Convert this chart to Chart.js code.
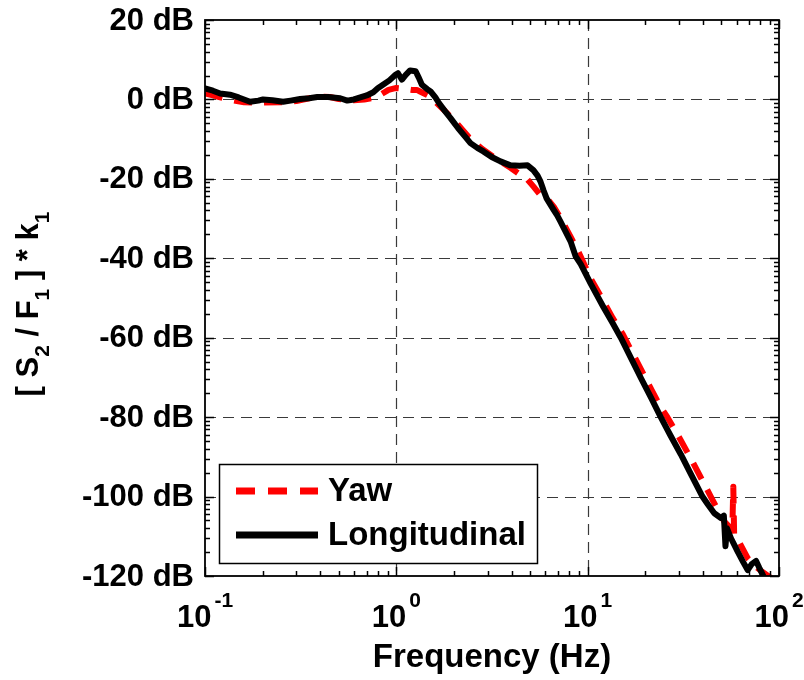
<!DOCTYPE html>
<html>
<head>
<meta charset="utf-8">
<script src="https://cdn.jsdelivr.net/npm/chart.js@4.4.1/dist/chart.umd.min.js"></script>
<style>
  html, body { margin: 0; padding: 0; background: #fff; }
  canvas { display: block; }
</style>
</head>
<body>
<canvas id="c" width="804" height="680"></canvas>
<script>
// Frequency response magnitude, [S2 / F1] * k1, for two excitation directions
const yawFreq = [0.1, 0.11, 0.12, 0.14, 0.16, 0.2, 0.25, 0.3, 0.35, 0.4, 0.45, 0.5, 0.6, 0.68, 0.77, 0.84, 0.91, 1.0, 1.09, 1.2,
  1.28, 1.33, 1.49, 1.6, 1.77, 2.07, 2.4, 2.8, 3.3, 3.95, 4.46, 4.85, 5.2, 5.6, 6.1, 6.64, 7.2, 8.15, 9.0, 10.4,
  12, 13.5, 15.2, 17, 19, 21.5, 24.1, 26.1, 30, 34.6, 39, 44, 48, 51.8, 57, 57.7, 58.3, 62, 68.6, 75,
  82, 90.8, 95];
const yawDb = [1.5, 1.0, 0.5, -0.2, -0.7, -0.8, -0.7, -0.4, 0.3, 0.7, 0.6, 0.1, -0.2, 0.0, 0.4, 1.4, 2.4, 2.9, 2.7, 2.4,
  2.4, 2.0, 0.8, -0.6, -2.6, -6.0, -9.6, -12.4, -14.8, -17.2, -19.0, -20.2, -21.9, -23.8, -24.8, -27.0, -29.8, -34.6, -38.6, -45.2,
  -50.5, -55, -59, -63.5, -68, -73, -77.5, -80, -85, -90.4, -95.2, -100, -103.5, -106.3, -108.4, -97.5, -110, -111.5, -115.5, -117.5,
  -119, -120.5, -121.5];

const longFreq = [0.1, 0.11, 0.12, 0.135, 0.15, 0.172, 0.19, 0.201, 0.225, 0.256, 0.28, 0.314, 0.35, 0.386, 0.44, 0.509, 0.554, 0.6, 0.648, 0.7,
  0.758, 0.8, 0.859, 0.92, 0.99, 1.02, 1.07, 1.12, 1.18, 1.26, 1.31, 1.36, 1.45, 1.51, 1.6, 1.67, 1.8, 1.92, 2.1, 2.3,
  2.44, 2.65, 2.85, 3.15, 3.5, 3.95, 4.4, 4.85, 5.2, 5.47, 5.67, 5.89, 6.1, 6.64, 6.93, 7.2, 8.15, 8.65, 9.2, 10.4,
  12, 13.5, 14.9, 17, 19, 21.5, 24.1, 27, 30.7, 34, 39.8, 42.5, 45.9, 49.7, 51.5, 52.5, 53.5, 56.1, 61, 65,
  68.6, 72, 75.9, 79, 83.8, 88];
const longDb = [2.8, 2.2, 1.5, 1.2, 0.5, -0.6, -0.3, 0.0, -0.2, -0.6, -0.3, 0.1, 0.3, 0.6, 0.6, 0.3, -0.3, 0.0, 0.5, 1.0,
  1.8, 2.8, 3.8, 4.8, 6.2, 6.6, 5.0, 6.2, 7.3, 7.1, 5.5, 3.7, 2.6, 2.0, 0.5, -0.9, -3.0, -4.7, -7.2, -9.5,
  -11, -12.2, -13.1, -14.5, -15.6, -16.6, -16.7, -16.6, -17.8, -19.2, -20.7, -23.0, -24.9, -27.8, -29.2, -30.7, -35.8, -39.5, -41.5, -46.5,
  -52, -56.3, -60, -65.5, -70.2, -75.2, -80, -84.5, -89.4, -93.6, -100, -102, -104.2, -105.4, -104.8, -112.5, -108, -110.5, -114, -116.5,
  -118.5, -117, -116.2, -118, -120.5, -122];

const seriesNames = ['Yaw', 'Longitudinal'];
const xDecades = [0.1, 1, 10, 100];
const xDecadeExponents = ['-1', '0', '1', '2'];
const yTicks = [20, 0, -20, -40, -60, -80, -100, -120];
const yTickUnit = ' dB';
const xTitle = 'Frequency (Hz)';
// [ S_2 / F_1 ] * k_1  (second field marks subscripts)
const yTitleParts = [['[ S', 0], ['2', 1], [' / F', 0], ['1', 1], [' ] * k', 0], ['1', 1]];

const FONT = '"Liberation Sans", Arial, Helvetica, sans-serif';
const RED = '#ff0000';
const DASH = [18, 12];

function toPoints(xs, ys) { return xs.map((f, i) => ({ x: f, y: ys[i] })); }

function line(ctx, x1, y1, x2, y2) {
  ctx.beginPath(); ctx.moveTo(x1, y1); ctx.lineTo(x2, y2); ctx.stroke();
}

const axesDecor = {
  id: 'axesDecor',
  beforeDatasetsDraw(chart) {
    const { ctx, chartArea: a, scales: { x, y } } = chart;
    ctx.save();
    ctx.strokeStyle = '#3a3a3a';
    ctx.lineWidth = 1.2;
    ctx.setLineDash([11, 7]);
    xDecades.forEach(v => {
      if (v === x.min || v === x.max) return;
      const px = Math.round(x.getPixelForValue(v)) + 0.5;
      line(ctx, px, a.top, px, a.bottom);
    });
    yTicks.forEach(v => {
      if (v === y.min || v === y.max) return;
      const py = Math.round(y.getPixelForValue(v)) + 0.5;
      line(ctx, a.left, py, a.right, py);
    });
    ctx.restore();
  },
  afterDatasetsDraw(chart) {
    const { ctx, chartArea: a, scales: { x, y } } = chart;
    ctx.save();
    ctx.setLineDash([]);
    ctx.strokeStyle = '#000';
    ctx.lineWidth = 1.5;

    // minor x ticks at 2..9 per decade, majors at each decade (top and bottom, inward)
    for (let d = 0; d < xDecades.length - 1; d++) {
      for (let k = 2; k <= 9; k++) {
        const px = Math.round(x.getPixelForValue(xDecades[d] * k)) + 0.5;
        line(ctx, px, a.bottom, px, a.bottom - 5);
        line(ctx, px, a.top, px, a.top + 5);
      }
    }
    xDecades.forEach(v => {
      const px = Math.round(x.getPixelForValue(v)) + 0.5;
      line(ctx, px, a.bottom, px, a.bottom - 9);
      line(ctx, px, a.top, px, a.top + 9);
    });
    // y ticks: majors every 20 dB, minor marks spaced like log decades within each interval
    yTicks.forEach(v => {
      const py = Math.round(y.getPixelForValue(v)) + 0.5;
      line(ctx, a.left, py, a.left + 9, py);
      line(ctx, a.right, py, a.right - 9, py);
      if (v > y.min) {
        const lo = v - 20;
        for (let k = 2; k <= 9; k++) {
          const pm = Math.round(y.getPixelForValue(lo + 20 * Math.log10(k))) + 0.5;
          line(ctx, a.left, pm, a.left + 5, pm);
          line(ctx, a.right, pm, a.right - 5, pm);
        }
      }
    });
    // axes box
    ctx.lineWidth = 1.8;
    ctx.strokeRect(a.left, a.top, a.right - a.left, a.bottom - a.top);

    // y tick labels
    ctx.fillStyle = '#000';
    ctx.font = 'bold 31px ' + FONT;
    ctx.textAlign = 'right';
    ctx.textBaseline = 'middle';
    yTicks.forEach(v => ctx.fillText(v + yTickUnit, a.left - 11, y.getPixelForValue(v) + 1));

    // x tick labels with exponents
    ctx.textBaseline = 'alphabetic';
    ctx.textAlign = 'left';
    xDecades.forEach((v, i) => {
      const px = x.getPixelForValue(v);
      ctx.font = 'bold 31px ' + FONT;
      const wb = ctx.measureText('10').width;
      ctx.font = 'bold 21px ' + FONT;
      const we = ctx.measureText(xDecadeExponents[i]).width;
      const x0 = px - (wb + we + 3) / 2;
      ctx.font = 'bold 31px ' + FONT;
      ctx.fillText('10', x0, a.bottom + 51);
      ctx.font = 'bold 21px ' + FONT;
      ctx.fillText(xDecadeExponents[i], x0 + wb + 3, a.bottom + 31);
    });

    // x axis title
    ctx.font = 'bold 33px ' + FONT;
    ctx.textAlign = 'center';
    ctx.fillText(xTitle, (a.left + a.right) / 2, a.bottom + 91);

    // y axis title, rotated, with subscripts
    ctx.save();
    ctx.translate(28, 304);
    ctx.rotate(-Math.PI / 2);
    ctx.textAlign = 'left';
    const mainFont = 'bold 31px ' + FONT, subFont = 'bold 21px ' + FONT;
    let total = 0;
    yTitleParts.forEach(([t, s]) => { ctx.font = s ? subFont : mainFont; total += ctx.measureText(t).width; });
    let cx = -total / 2;
    yTitleParts.forEach(([t, s]) => {
      ctx.font = s ? subFont : mainFont;
      ctx.fillText(t, cx, s ? 21 : 10);
      cx += ctx.measureText(t).width;
    });
    ctx.restore();

    // legend
    const lx = 219.5, ly = 464.5, lw = 318, lh = 99;
    ctx.fillStyle = '#fff';
    ctx.fillRect(lx, ly, lw, lh);
    ctx.lineWidth = 1.5;
    ctx.strokeStyle = '#000';
    ctx.strokeRect(lx, ly, lw, lh);
    const rows = [{ name: seriesNames[0], color: RED, dash: [19, 13], yy: 491 },
                  { name: seriesNames[1], color: '#000', dash: [], yy: 535 }];
    rows.forEach(r => {
      ctx.strokeStyle = r.color;
      ctx.lineWidth = 7;
      ctx.lineCap = 'butt';
      ctx.setLineDash(r.dash);
      line(ctx, 236, r.yy, 318, r.yy);
      ctx.setLineDash([]);
      ctx.fillStyle = '#000';
      ctx.font = 'bold 33px ' + FONT;
      ctx.textAlign = 'left';
      ctx.textBaseline = 'middle';
      ctx.fillText(r.name, 328, r.yy + 1);
    });
    ctx.restore();
  }
};

new Chart(document.getElementById('c'), {
  type: 'line',
  data: {
    datasets: [
      {
        label: seriesNames[0],
        data: toPoints(yawFreq, yawDb),
        borderColor: RED,
        borderWidth: 6,
        borderDash: DASH,
        borderCapStyle: 'butt',
        borderJoinStyle: 'round',
        pointRadius: 0,
        tension: 0,
        fill: false,
        order: 1
      },
      {
        label: seriesNames[1],
        data: toPoints(longFreq, longDb),
        borderColor: '#000',
        borderWidth: 6,
        borderCapStyle: 'round',
        borderJoinStyle: 'round',
        pointRadius: 0,
        tension: 0,
        fill: false,
        order: 0
      }
    ]
  },
  options: {
    responsive: false,
    animation: false,
    devicePixelRatio: 1,
    parsing: true,
    layout: { padding: { left: 205, right: 25, top: 20, bottom: 104 } },
    plugins: { legend: { display: false }, tooltip: { enabled: false } },
    scales: {
      x: { type: 'logarithmic', min: 0.1, max: 100, display: false },
      y: { type: 'linear', min: -120, max: 20, display: false }
    }
  },
  plugins: [axesDecor]
});
</script>
</body>
</html>
